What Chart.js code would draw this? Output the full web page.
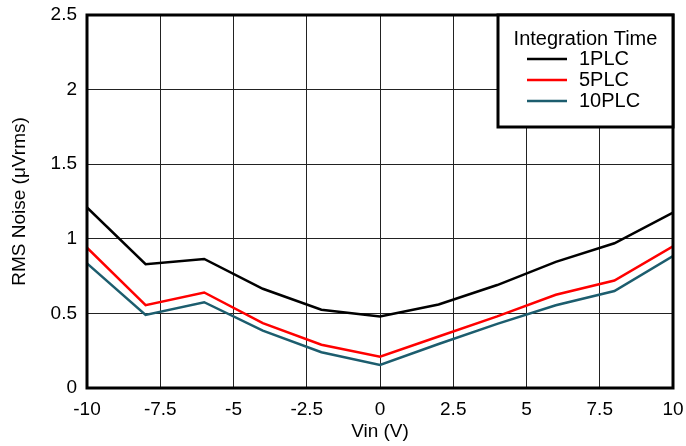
<!DOCTYPE html>
<html>
<head>
<meta charset="utf-8">
<script src="https://cdn.jsdelivr.net/npm/chart.js@4/dist/chart.umd.min.js"></script>
<style>
  html, body { margin: 0; padding: 0; background: #fff; }
  #wrap { width: 686px; height: 446px; }
</style>
</head>
<body>
<div id="wrap"><canvas id="noiseChart"></canvas></div>
<script>
// input voltage points (V)
var vin = [-10, -8, -6, -4, -2, 0, 2, 4, 6, 8, 10];

// RMS noise (uVrms) per integration time
var noise1plc = [1.21, 0.83, 0.865, 0.665, 0.525, 0.48, 0.56, 0.69, 0.845, 0.97, 1.175];
var noise5plc = [0.94, 0.555, 0.64, 0.435, 0.29, 0.21, 0.345, 0.48, 0.625, 0.72, 0.95];
var noise10plc = [0.835, 0.49, 0.575, 0.385, 0.24, 0.155, 0.295, 0.43, 0.555, 0.65, 0.885];

var seriesNames = ['1PLC', '5PLC', '10PLC'];
var seriesColors = ['#000000', '#ff0000', '#1c5d6e'];
var legendTitle = 'Integration Time';

function toPoints(ys) {
    return vin.map(function (x, i) { return { x: x, y: ys[i] }; });
}

Chart.defaults.font.family = '"Liberation Sans", Arial, sans-serif';
Chart.defaults.font.size = 19;
Chart.defaults.color = '#000';

// thick frame round the plot area
var framePlugin = {
    id: 'frame',
    afterDraw: function (chart) {
        var a = chart.chartArea, ctx = chart.ctx;
        ctx.save();
        ctx.strokeStyle = '#000';
        ctx.lineWidth = 3;
        ctx.strokeRect(a.left, a.top, a.right - a.left, a.bottom - a.top);
        ctx.restore();
    }
};

// boxed legend in the top right corner of the plot
var boxLegendPlugin = {
    id: 'boxLegend',
    afterDraw: function (chart) {
        var a = chart.chartArea, ctx = chart.ctx;
        var w = 175, h = 112;
        var x0 = a.right - w, y0 = a.top;
        ctx.save();
        ctx.fillStyle = '#fff';
        ctx.fillRect(x0, y0, w, h);
        ctx.strokeStyle = '#000';
        ctx.lineWidth = 3;
        ctx.strokeRect(x0, y0, w, h);
        ctx.font = '20px "Liberation Sans", Arial, sans-serif';
        ctx.fillStyle = '#000';
        ctx.textBaseline = 'middle';
        ctx.textAlign = 'center';
        ctx.fillText(legendTitle, x0 + w / 2, y0 + 24);
        ctx.textAlign = 'left';
        chart.data.datasets.forEach(function (ds, i) {
            var y = y0 + 44 + i * 21;
            ctx.strokeStyle = ds.borderColor;
            ctx.lineWidth = 2.5;
            ctx.beginPath();
            ctx.moveTo(x0 + 29, y);
            ctx.lineTo(x0 + 69, y);
            ctx.stroke();
            ctx.fillStyle = '#000';
            ctx.fillText(ds.label, x0 + 81, y);
        });
        ctx.restore();
    }
};

var ctxNoise = document.getElementById('noiseChart').getContext('2d');
var noiseChart = new Chart(ctxNoise, {
    type: 'line',
    data: {
        datasets: [
            { label: seriesNames[0], data: toPoints(noise1plc), borderColor: seriesColors[0] },
            { label: seriesNames[1], data: toPoints(noise5plc), borderColor: seriesColors[1] },
            { label: seriesNames[2], data: toPoints(noise10plc), borderColor: seriesColors[2] }
        ]
    },
    options: {
        responsive: true,
        maintainAspectRatio: false,
        animation: false,
        elements: {
            line: { borderWidth: 2.5, tension: 0, fill: false },
            point: { radius: 0 }
        },
        layout: { padding: { top: 15, right: 13, left: 0, bottom: 0 } },
        plugins: {
            legend: { display: false },
            tooltip: { enabled: false }
        },
        scales: {
            x: {
                type: 'linear',
                min: -10,
                max: 10,
                ticks: { stepSize: 2.5, padding: 10, maxRotation: 0 },
                grid: { color: '#222', lineWidth: 1, drawTicks: false },
                border: { display: false },
                title: { display: true, text: 'Vin (V)', padding: { top: 0, bottom: 3 } },
                afterFit: function (s) {
                    s.height = 58;
                    s.paddingLeft = 0;
                    s.paddingRight = 0;
                }
            },
            y: {
                min: 0,
                max: 2.5,
                ticks: {
                    stepSize: 0.5,
                    padding: 10,
                    callback: function (v) { return String(v); }
                },
                grid: { color: '#222', lineWidth: 1, drawTicks: false },
                border: { display: false },
                title: { display: true, text: 'RMS Noise (\u03bcVrms)', padding: { top: 8, bottom: 0 } },
                afterFit: function (s) {
                    s.width = 87;
                    s.paddingTop = 0;
                    s.paddingBottom = 0;
                }
            }
        }
    },
    plugins: [framePlugin, boxLegendPlugin]
});
</script>
</body>
</html>
